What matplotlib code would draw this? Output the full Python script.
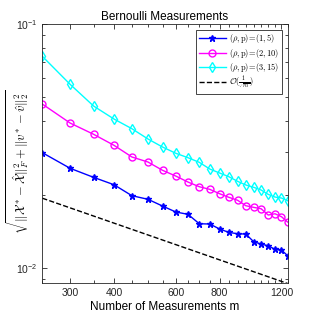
import numpy as np
import matplotlib
matplotlib.use('Agg')
import matplotlib.pyplot as plt
from matplotlib.ticker import FixedLocator, NullFormatter

plt.rcParams['font.family'] = ['Liberation Sans', 'DejaVu Sans']
plt.rcParams['mathtext.fontset'] = 'cm'

# number of measurements
m = [250, 300, 350, 400, 450, 500, 550, 600, 650, 700, 750,
     800, 850, 900, 950, 1000, 1050, 1100, 1150, 1200, 1250]

# (rho,p)=(1,5)
err_1_5 = [0.02970, 0.02563, 0.02353, 0.02195, 0.01979, 0.01913, 0.01795,
           0.01697, 0.01660, 0.01519, 0.01515, 0.01445, 0.01400, 0.01382,
           0.01378, 0.01282, 0.01254, 0.01234, 0.01193, 0.01185, 0.01123]
# (rho,p)=(2,10)
err_2_10 = [0.04699, 0.03928, 0.03532, 0.03184, 0.02851, 0.02719, 0.02515,
            0.02382, 0.02251, 0.02154, 0.02101, 0.02016, 0.01949, 0.01895,
            0.01800, 0.01773, 0.01750, 0.01649, 0.01669, 0.01623, 0.01543]
# (rho,p)=(3,15)
err_3_15 = [0.07374, 0.05660, 0.04611, 0.04080, 0.03723, 0.03379, 0.03133,
            0.02953, 0.02832, 0.02711, 0.02545, 0.02451, 0.02367, 0.02266,
            0.02189, 0.02142, 0.02088, 0.02004, 0.01954, 0.01936, 0.01887]
# O(1/sqrt(m)) reference line end points
ref_m = [250, 1250]
ref_err = [0.01933, 0.00864]

labels = [r'$(\rho,\mathrm{p})\!=\!(1,5)$',
          r'$(\rho,\mathrm{p})\!=\!(2,10)$',
          r'$(\rho,\mathrm{p})\!=\!(3,15)$',
          r'$\mathcal{O}(\frac{1}{\sqrt{m}})$']
xticks = [300, 400, 600, 800, 1200]

fig = plt.figure(figsize=(3.19, 3.19), dpi=100)
ax = fig.add_axes([0.1326, 0.1119, 0.7693, 0.8129])

ax.loglog(m, err_1_5, '-*', color=(0, 0, 1), lw=1, ms=5, label=labels[0])
ax.loglog(m, err_2_10, '-o', color=(1, 0, 1), lw=1, ms=5, mfc='none', label=labels[1])
ax.loglog(m, err_3_15, '-d', color=(0, 1, 1), lw=1, ms=5, mfc='none', label=labels[2])
ax.loglog(ref_m, ref_err, '--', color='k', lw=1, label=labels[3])

ax.set_xlim(250, 1250)
ax.set_ylim(0.00866, 0.1)
ax.xaxis.set_major_locator(FixedLocator(xticks))
ax.set_xticklabels([str(t) for t in xticks])
ax.xaxis.set_minor_locator(FixedLocator(m))
ax.xaxis.set_minor_formatter(NullFormatter())

ax.tick_params(which='both', direction='in', top=True, right=True,
               labelsize=7.5, colors='#262626', width=0.6)
ax.tick_params(which='major', length=3.5)
ax.tick_params(which='minor', length=2)
for s in ax.spines.values():
    s.set_linewidth(0.6)
    s.set_color('#262626')

ax.set_title('Bernoulli Measurements', fontsize=8.5, pad=3)
ax.set_xlabel('Number of Measurements m', fontsize=8.5, labelpad=2)
ax.set_ylabel(r'$\sqrt{\|\mathcal{X}^* - \hat{\mathcal{X}}\|_F^2 + \|v^* - \hat{v}\|_2^2}$',
              fontsize=9)
ax.yaxis.set_label_coords(-0.045, 0.47)

leg = ax.legend(loc='upper right', fontsize=6, fancybox=False, framealpha=1,
                edgecolor='#262626', borderaxespad=0.7, handlelength=3.3,
                labelspacing=0.15, borderpad=0.3, handletextpad=0.4)
leg.get_frame().set_linewidth(0.6)

fig.savefig('out.png', dpi=100)
